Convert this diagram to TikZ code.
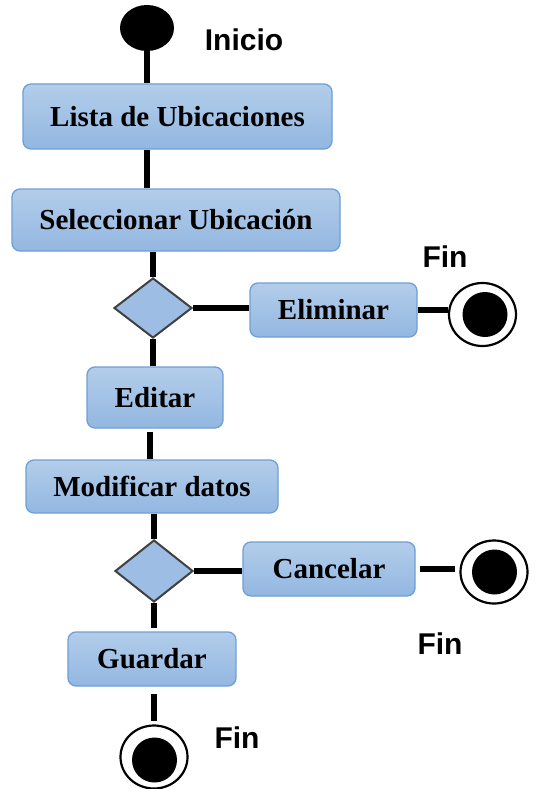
\documentclass[tikz,border=0pt]{standalone}
\usepackage{fontspec}
\setmainfont{Liberation Serif}
\newfontfamily\labelfont{Liberation Sans}
\usetikzlibrary{shapes.geometric}
\definecolor{boxtop}{HTML}{B3CDEA}
\definecolor{boxbot}{HTML}{93B7E1}
\definecolor{boxline}{HTML}{6E9FD6}
\definecolor{decfill}{HTML}{9DBDE4}
\definecolor{decline}{HTML}{404040}
\begin{document}
\begin{tikzpicture}[x=1pt,y=-1pt,
  act/.style={rectangle, rounded corners=8pt, draw=boxline, line width=1.3pt,
    top color=boxtop, bottom color=boxbot, inner sep=0pt,
    font=\fontsize{29}{34}\selectfont\bfseries},
  decision/.style={diamond, draw=decline, line width=2pt, fill=decfill,
    inner sep=0pt},
  startnode/.style={ellipse, fill=black, inner sep=0pt,
    minimum width=54pt, minimum height=46pt},
  endring/.style={ellipse, draw=black, line width=2.2pt, fill=white,
    inner sep=0pt, minimum width=67pt, minimum height=63pt},
  enddot/.style={circle, fill=black, inner sep=0pt, minimum size=45pt},
  tag/.style={font=\labelfont\fontsize{30}{34}\selectfont\bfseries},
  conn/.style={line width=6pt, black}]
\useasboundingbox (0,0) rectangle (543,789);

% initial state
\node[startnode] (start) at (147,28) {};
\node[tag] (inicio) at (244,40) {Inicio};

% activities
\node[act, minimum width=309pt, minimum height=65pt] (lista) at (177.5,116.5) {Lista de Ubicaciones};
\node[act, minimum width=328pt, minimum height=62pt] (selec) at (176,220) {Seleccionar Ubicación};
\node[decision, minimum width=78pt, minimum height=60pt] (dec1) at (153,308) {};
\node[act, minimum width=167pt, minimum height=54pt] (elim) at (333.5,310) {Eliminar};
\node[act, minimum width=136pt, minimum height=61pt] (editar) at (155,397.5) {Editar};
\node[act, minimum width=252pt, minimum height=53pt] (modif) at (152,486.5) {Modificar datos};
\node[decision, minimum width=78pt, minimum height=62pt] (dec2) at (154,571) {};
\node[act, minimum width=172pt, minimum height=54pt] (cancel) at (329,569) {Cancelar};
\node[act, minimum width=168pt, minimum height=54pt] (guardar) at (152,659) {Guardar};

% final states
\node[endring] (fin1) at (482.5,314.5) {};
\node[enddot] (fin1d) at (485,314.5) {};
\node[tag] (fin1t) at (445,257) {Fin};

\node[endring] (fin2) at (494,572) {};
\node[enddot] (fin2d) at (494.5,572) {};
\node[tag] (fin2t) at (440,644) {Fin};

\node[endring] (fin3) at (154,757) {};
\node[enddot] (fin3d) at (154.5,760) {};
\node[tag] (fin3t) at (237,738) {Fin};

% flows
\draw[conn] (start) -- (start |- lista.north);
\draw[conn] (lista.south -| start) -- (selec.north -| start);
\draw[conn] (selec.south -| dec1) -- (dec1.north);
\draw[conn] (dec1.east) -- (dec1.east -| elim.west);
\draw[conn] (elim.east) -- (elim.east -| fin1.west);
\draw[conn] (dec1.south) -- (dec1.south |- editar.north);
\draw[conn, shorten <=3pt] ([xshift=-5pt]editar.south) -- ([xshift=-5pt]editar.south |- modif.north);
\draw[conn] (modif.south -| dec2) -- (dec2.north);
\draw[conn] (dec2.east) -- (dec2.east -| cancel.west);
\draw[conn, shorten <=4pt, shorten >=4pt] (cancel.east) -- (cancel.east -| fin2.west);
\draw[conn, shorten >=3pt] (dec2.south) -- (dec2.south |- guardar.north);
\draw[conn, shorten <=7pt, shorten >=3pt] (guardar.south -| fin3) -- (fin3.north);
\end{tikzpicture}
\end{document}
